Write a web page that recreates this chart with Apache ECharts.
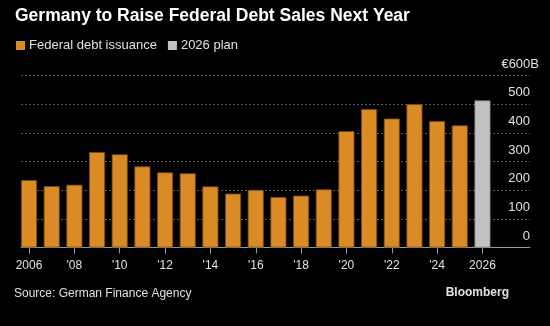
<!DOCTYPE html>
<html><head><meta charset="utf-8">
<script src="https://cdn.jsdelivr.net/npm/echarts@6/dist/echarts.min.js"></script>
<style>html,body{margin:0;padding:0;background:#000}#c{width:550px;height:326px}</style>
</head><body><div id="c"></div>
<script>
var years = ['2006','2007','2008','2009','2010','2011','2012','2013','2014','2015','2016','2017','2018','2019','2020','2021','2022','2023','2024','2025','2026'];
var issuance = [235, 214, 219, 333, 325, 283, 262, 259, 213, 188, 201, 176, 181, 203, 406, 483, 450, 500, 441, 426, null];
var plan = [null, null, null, null, null, null, null, null, null, null, null, null, null, null, null, null, null, null, null, null, 513];
var yTicks = [0, 100, 200, 300, 400, 500, 600];

var FONT = 'Liberation Sans, Arial, sans-serif';
var chart = echarts.init(document.getElementById('c'), null, {renderer: 'canvas'});
chart.setOption({
  backgroundColor: '#000',
  animation: false,
  textStyle: {fontFamily: FONT},
  legend: {
    left: 16, top: 39, padding: 0, itemWidth: 9, itemHeight: 9, itemGap: 11, icon: 'rect',
    itemStyle: {borderWidth: 0},
    textStyle: {color: '#e0e0e0', fontSize: 13, fontFamily: FONT, padding: [0, 0, 0, -1]},
    data: ['Federal debt issuance', '2026 plan']
  },
  grid: [
    {left: 17.7, right: 56.2, top: 75.5, bottom: 78.5},
    {left: 21, right: 20, top: 75.5, bottom: 78.5}
  ],
  xAxis: [
    {
      type: 'category', gridIndex: 0, data: years,
      axisLine: {show: false},
      axisTick: {show: true, interval: 1, alignWithLabel: true, length: 6, lineStyle: {color: '#999'}},
      axisLabel: {
        interval: 1, margin: 12, color: '#e0e0e0', fontSize: 12, fontFamily: FONT,
        formatter: function (v) { return (v === '2006' || v === '2026') ? v : "'" + v.slice(2); }
      }
    },
    {
      type: 'value', gridIndex: 1, min: 0, max: 1,
      axisLine: {show: true, lineStyle: {color: '#999', width: 1}},
      axisTick: {show: false}, axisLabel: {show: false}, splitLine: {show: false}
    }
  ],
  yAxis: [
    {type: 'value', gridIndex: 0, min: 0, max: 600, show: false},
    {
      type: 'value', gridIndex: 1, min: 0, max: 600, interval: 100, position: 'right',
      axisLine: {show: false}, axisTick: {show: false},
      splitLine: {show: true, lineStyle: {color: '#5a5a5a', type: [2, 2], width: 1}},
      axisLabel: {
        inside: true, margin: 0, color: '#e0e0e0', fontSize: 13, fontFamily: FONT,
        verticalAlign: 'bottom', padding: [0, 0, 5, 0],
        formatter: function (v) { return v === 600 ? '{u|€600B}' : String(v); },
        rich: {u: {color: '#e0e0e0', fontSize: 13, fontFamily: FONT, padding: [0, -9, 0, 0]}}
      }
    }
  ],
  series: [
    {
      name: 'Federal debt issuance', type: 'bar', xAxisIndex: 0, yAxisIndex: 0,
      data: issuance, barWidth: 16, barGap: '-100%',
      itemStyle: {color: '#DB8B25', borderColor: '#7a4a10', borderWidth: 0.8}
    },
    {
      name: '2026 plan', type: 'bar', xAxisIndex: 0, yAxisIndex: 0,
      data: plan, barWidth: 16, barGap: '-100%',
      itemStyle: {color: '#C2C2C2', borderColor: '#808080', borderWidth: 0.8}
    }
  ],
  graphic: [
    {type: 'text', left: 15, top: 7, style: {text: 'Germany to Raise Federal Debt Sales Next Year', fill: '#fff', font: 'bold 17.5px ' + FONT}},
    {type: 'text', left: 14, top: 288, style: {text: 'Source: German Finance Agency', fill: '#e0e0e0', font: '12px ' + FONT}},
    {type: 'text', right: 41, top: 287, style: {text: 'Bloomberg', fill: '#e0e0e0', font: 'bold 12px ' + FONT}}
  ]
});
</script></body></html>
